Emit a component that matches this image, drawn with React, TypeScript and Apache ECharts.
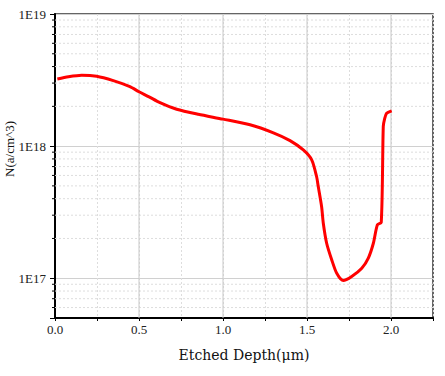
import React, { useEffect, useRef } from "react";
import * as echarts from "echarts";

// Etched depth (µm) and carrier concentration N (a/cm^3)
const depth = [
  0.014, 0.08, 0.159, 0.248, 0.347, 0.446, 0.5, 0.56, 0.625, 0.724, 0.853, 1.0,
  1.161, 1.3, 1.399, 1.478, 1.528, 1.557, 1.567, 1.587, 1.597, 1.617, 1.647,
  1.677, 1.716, 1.766, 1.826, 1.865, 1.895, 1.919, 1.942, 1.954, 1.962, 1.974, 2.004,
];
const conc = [
  3.22e18, 3.35e18, 3.44e18, 3.38e18, 3.13e18, 2.82e18, 2.58e18, 2.36e18, 2.13e18,
  1.9e18, 1.74e18, 1.6e18, 1.45e18, 1.26e18, 1.1e18, 9.35e17, 7.87e17, 5.89e17,
  4.94e17, 3.48e17, 2.61e17, 1.84e17, 1.38e17, 1.09e17, 9.6e16, 1.03e17, 1.19e17,
  1.42e17, 1.84e17, 2.54e17, 2.65e17, 1.41e18, 1.61e18, 1.77e18, 1.85e18,
];

const xMajorGrid = [0.5, 1.0, 1.5, 2.0];
const yMinorTicks = [
  6e16, 7e16, 8e16, 9e16,
  2e17, 3e17, 4e17, 5e17, 6e17, 7e17, 8e17, 9e17,
  2e18, 3e18, 4e18, 5e18, 6e18, 7e18, 8e18, 9e18,
];

const X_NAME = "Etched Depth(μm)";
const Y_NAME = "N(a/cm^3)";

export default function App() {
  const ref = useRef<HTMLDivElement>(null);
  useEffect(() => {
    if (!ref.current) return;
    document.body.style.margin = "0";
    const chart = echarts.init(ref.current, undefined, { renderer: "svg" });
    const tickFont = { fontFamily: "Liberation Serif", fontSize: 13, color: "#222" };
    chart.setOption({
      animation: false,
      backgroundColor: "#fff",
      grid: {
        left: 55,
        right: 12,
        top: 14,
        bottom: 58,
        show: true,
        borderColor: "#333",
        borderWidth: 1.5,
      },
      xAxis: {
        type: "value",
        min: 0,
        max: 2.25,
        interval: 0.25,
        name: X_NAME,
        nameLocation: "middle",
        nameGap: 30,
        nameTextStyle: { fontFamily: "DejaVu Serif", fontSize: 14, color: "#111" },
        axisLine: { show: true, onZero: false, lineStyle: { color: "#000", width: 2 } },
        axisTick: { show: true, inside: false, length: 3, lineStyle: { color: "#000" } },
        axisLabel: {
          ...tickFont,
          margin: 5,
          formatter: (v: number) =>
            Math.abs(v * 2 - Math.round(v * 2)) < 1e-6 && v < 2.2 ? v.toFixed(1) : "",
        },
        splitLine: { show: true, lineStyle: { color: "#ddd", type: [2, 2], width: 1 } },
      },
      yAxis: {
        type: "log",
        logBase: 10,
        min: 5e16,
        max: 1e19,
        axisLine: { show: true, lineStyle: { color: "#000", width: 2 } },
        axisTick: { show: true, inside: false, length: 5, lineStyle: { color: "#000" } },
        axisLabel: {
          ...tickFont,
          margin: 9,
          formatter: (v: number) => {
            const e = Math.log10(v);
            return Math.abs(e - Math.round(e)) < 1e-6 ? "1E" + Math.round(e) : "";
          },
        },
        splitLine: { show: true, lineStyle: { color: "#d0d0d0", width: 1 } },
      },
      graphic: [
        {
          type: "text",
          x: 9,
          y: 149,
          rotation: Math.PI / 2,
          style: {
            text: Y_NAME,
            align: "center",
            verticalAlign: "middle",
            font: "13px 'Liberation Serif'",
            fill: "#111",
          },
        },
      ],
      series: [
        {
          type: "custom",
          coordinateSystem: "cartesian2d",
          silent: true,
          z: 1,
          encode: { x: 0, y: 1 },
          data: yMinorTicks.map((v) => [0, v]),
          renderItem: (params: any, api: any) => {
            const y = api.coord([0, api.value(1)])[1];
            const cs = params.coordSys;
            return {
              type: "group",
              children: [
                {
                  type: "line",
                  shape: { x1: cs.x, y1: y, x2: cs.x + cs.width, y2: y },
                  style: { stroke: "#ddd", lineWidth: 1, lineDash: [2, 2] },
                },
                {
                  type: "line",
                  shape: { x1: cs.x - 3, y1: y, x2: cs.x, y2: y },
                  style: { stroke: "#000", lineWidth: 1 },
                },
              ],
            };
          },
        },
        {
          type: "custom",
          coordinateSystem: "cartesian2d",
          silent: true,
          z: 1,
          encode: { x: 0, y: 1 },
          data: xMajorGrid.map((v) => [v, 1e18]),
          renderItem: (params: any, api: any) => {
            const x = api.coord([api.value(0), 1e18])[0];
            const cs = params.coordSys;
            return {
              type: "line",
              shape: { x1: x, y1: cs.y, x2: x, y2: cs.y + cs.height },
              style: { stroke: "#c8c8c8", lineWidth: 1 },
            };
          },
        },
        {
          type: "line",
          z: 3,
          data: depth.map((d, i) => [d, conc[i]]),
          showSymbol: false,
          symbol: "none",
          smooth: 0.25,
          lineStyle: { color: "#ff0000", width: 3 },
        },
      ],
    });
    return () => chart.dispose();
  }, []);
  return <div ref={ref} style={{ width: 445, height: 376 }} />;
}
